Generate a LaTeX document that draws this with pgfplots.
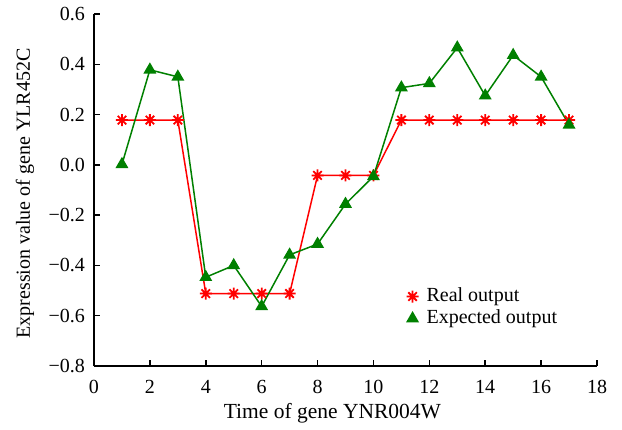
\documentclass[border=0pt]{standalone}
\usepackage{pgfplots}
\pgfplotsset{compat=1.18}
\usepackage{fontspec}
\setmainfont{Liberation Serif}
\definecolor{dgreen}{RGB}{0,128,0}
% matlab-like asterisk: plus and cross together
\pgfdeclareplotmark{mstar}{%
  \pgfpathmoveto{\pgfqpoint{-\pgfplotmarksize}{0pt}}\pgfpathlineto{\pgfqpoint{\pgfplotmarksize}{0pt}}%
  \pgfpathmoveto{\pgfqpoint{0pt}{-\pgfplotmarksize}}\pgfpathlineto{\pgfqpoint{0pt}{\pgfplotmarksize}}%
  \pgfpathmoveto{\pgfqpoint{-0.707\pgfplotmarksize}{-0.707\pgfplotmarksize}}\pgfpathlineto{\pgfqpoint{0.707\pgfplotmarksize}{0.707\pgfplotmarksize}}%
  \pgfpathmoveto{\pgfqpoint{-0.707\pgfplotmarksize}{0.707\pgfplotmarksize}}\pgfpathlineto{\pgfqpoint{0.707\pgfplotmarksize}{-0.707\pgfplotmarksize}}%
  \pgfusepathqstroke}
\begin{document}
\begin{tikzpicture}[font=\fontsize{20}{24}\selectfont]
\begin{axis}[
  at={(0,0)}, anchor=south west,
  scale only axis,
  width=503pt, height=352pt,
  xmin=0, xmax=18, ymin=-0.8, ymax=0.6,
  axis x line*=bottom, axis y line*=left,
  axis line style={line width=1.5pt},
  xtick={0,2,...,18},
  ytick={-0.8,-0.6,-0.4,-0.2,0,0.2,0.4,0.6},
  yticklabels={−0.8,−0.6,−0.4,−0.2,0.0,0.2,0.4,0.6},
  tick align=inside,
  major tick length=6pt,
  tick style={line width=1.5pt, black},
  /pgf/number format/assume math mode=true,
  xticklabel style={anchor=center, inner sep=0pt, yshift=-21pt},
  yticklabel style={anchor=east, inner sep=0pt, xshift=-9pt},
  every axis x label/.style={at={(axis description cs:0.474,-0.1335)}, anchor=center,
    font=\fontsize{21.5}{25}\selectfont},
  every axis y label/.style={at={(axis description cs:-0.137,0.49)}, anchor=center, rotate=90},
  xlabel={Time of gene YNR004W},
  ylabel={Expression value of gene YLR452C},
  legend style={draw=none, fill=none, inner sep=0pt, at={(0.621,0.227)}, anchor=north west,
    font=\fontsize{20}{24}\selectfont, row sep=1.5pt, column sep=7pt,
    nodes={inner sep=1pt, text height=14pt, text depth=4.5pt}},
  legend cell align=left,
  legend image code/.code={\draw plot[only marks] coordinates {(0pt,0pt)};},
]
\addplot[red, line width=1.5pt, mark=mstar, mark size=6pt, mark options={solid, line width=1.8pt}]
coordinates {
(1,0.178)(2,0.178)(3,0.178)(4,-0.512)(5,-0.512)(6,-0.512)(7,-0.512)
(8,-0.042)(9,-0.042)(10,-0.042)(11,0.178)(12,0.178)(13,0.178)(14,0.178)
(15,0.178)(16,0.178)(17,0.178)};
\addlegendentry{Real output}
\addplot[dgreen, line width=1.5pt, mark=triangle*, mark size=6pt, mark options={solid}]
coordinates {
(1,0.002)(2,0.378)(3,0.350)(4,-0.447)(5,-0.400)(6,-0.563)(7,-0.358)
(8,-0.315)(9,-0.156)(10,-0.046)(11,0.307)(12,0.324)(13,0.466)(14,0.275)
(15,0.436)(16,0.350)(17,0.159)};
\addlegendentry{Expected output}
\end{axis}
\pgfresetboundingbox
\useasboundingbox (-94pt,-63pt) rectangle (528pt,366pt);
\end{tikzpicture}
\end{document}
